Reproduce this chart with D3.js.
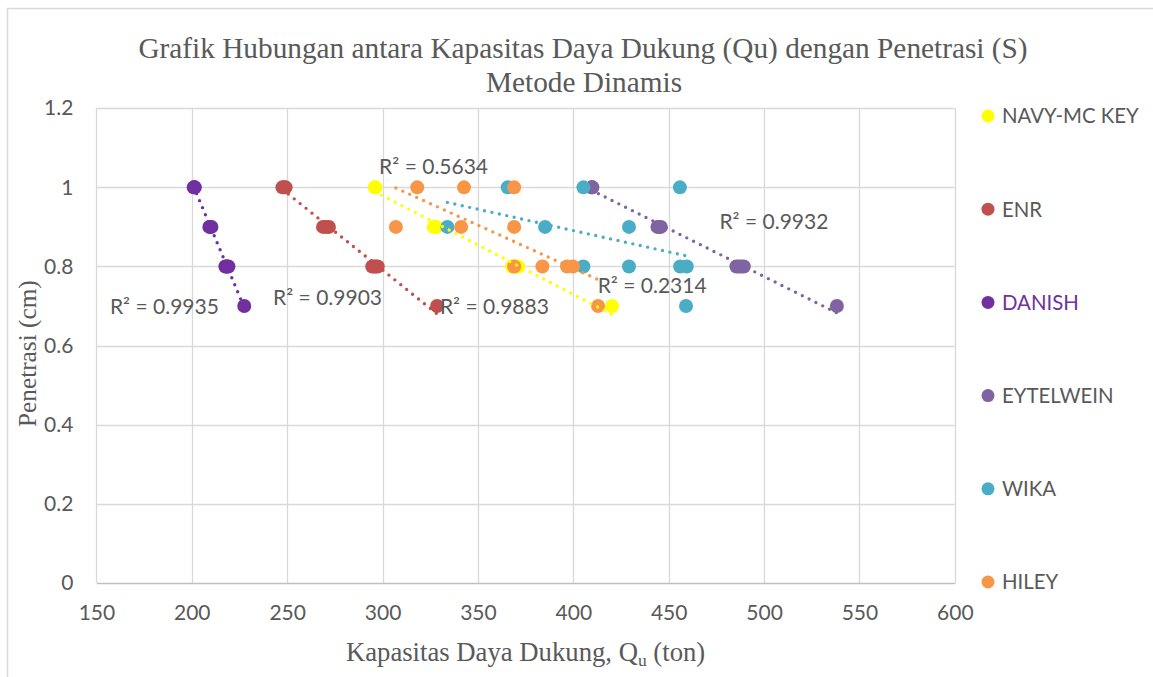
<!DOCTYPE html>
<html>
<head>
<meta charset="utf-8">
<script src="https://cdn.jsdelivr.net/npm/d3@7"></script>
<style>
  html, body { margin: 0; padding: 0; background: #ffffff; }
  svg { display: block; }
</style>
</head>
<body>
<svg id="chart" width="1153" height="677"></svg>
<script>
// ---------------- DATA ----------------
const seriesNames = ["NAVY-MC KEY", "ENR", "DANISH", "EYTELWEIN", "WIKA", "HILEY"];
const penetration = [1, 1, 1, 0.9, 0.9, 0.9, 0.8, 0.8, 0.8, 0.8, 0.7];
const navyQu      = [296.0, 296.1, 296.2, 326.8, 327.5, 328.2, 367.9, 368.9, 370.0, 371.1, 420.3];
const enrQu       = [247.5, 248.3, 249.2, 268.8, 270.4, 271.9, 294.6, 295.6, 296.6, 297.5, 328.6];
const danishQu    = [201.0, 201.3, 201.6, 209.2, 209.7, 210.3, 217.6, 218.1, 218.6, 219.2, 227.5];
const eytelweinQu = [409.6, 409.8, 410.0, 444.1, 445.0, 445.9, 485.5, 486.8, 488.1, 489.4, 538.2];
const wikaQu      = [365.6, 405.3, 455.9, 334.0, 385.2, 429.2, 405.3, 429.2, 456.0, 459.5, 459.1];
const hileyQu     = [318.2, 342.7, 369.0, 307.0, 341.2, 369.0, 369.0, 383.8, 396.7, 399.8, 413.0];
const r2Labels    = ["R² = 0.9883", "R² = 0.9903", "R² = 0.9935", "R² = 0.9932", "R² = 0.2314", "R² = 0.5634"];
const xTickValues = [150, 200, 250, 300, 350, 400, 450, 500, 550, 600];
const yTickValues = [0, 0.2, 0.4, 0.6, 0.8, 1, 1.2];

// ---------------- STYLE / LAYOUT ----------------
const colors = ["#FFFF00", "#C0504D", "#7030A0", "#8064A2", "#4BACC6", "#F79646"];
// label anchor positions (data units) for the R² annotations
const r2Anchor = [[330.1, 0.698], [242.6, 0.7225], [157.1, 0.698], [476.6, 0.913], [412.8, 0.753], [298.2, 1.052]];
const sansFont = "Lato, 'Open Sans', sans-serif";
const serifFont = "'Liberation Serif', 'Times New Roman', serif";
const textGray = "#595959";

const svg = d3.select("#chart");
svg.append("rect").attr("x", 7.5).attr("y", 8.5).attr("width", 1160).attr("height", 700)
  .attr("fill", "#fff").attr("stroke", "#D9D9D9").attr("stroke-width", 1.5);

const plot = { left: 96.4, right: 954.8, top: 108.2, bottom: 583.0 };
const x = d3.scaleLinear().domain([150, 600]).range([plot.left, plot.right]);
const y = d3.scaleLinear().domain([0, 1.2]).range([plot.bottom, plot.top]);

// gridlines
const grid = svg.append("g");
grid.selectAll("line.v").data(xTickValues).join("line")
  .attr("x1", d => Math.round(x(d)) + 0.5).attr("x2", d => Math.round(x(d)) + 0.5)
  .attr("y1", plot.top).attr("y2", plot.bottom)
  .attr("stroke", "#D9D9D9").attr("stroke-width", 1.3);
grid.selectAll("line.h").data(yTickValues.filter(d => d > 0)).join("line")
  .attr("x1", plot.left).attr("x2", plot.right)
  .attr("y1", d => Math.round(y(d)) + 0.5).attr("y2", d => Math.round(y(d)) + 0.5)
  .attr("stroke", "#D9D9D9").attr("stroke-width", 1.3);

// axes
const xAxis = d3.axisBottom(x).tickValues(xTickValues).tickSize(0).tickPadding(22).tickFormat(d3.format("d"));
const gx = svg.append("g").attr("transform", `translate(0,${plot.bottom})`).call(xAxis);
gx.select(".domain").attr("stroke", "#BFBFBF").attr("stroke-width", 1.5);
gx.selectAll("text").attr("font-family", sansFont).attr("font-size", 21).attr("fill", textGray);

const yAxis = d3.axisLeft(y).tickValues(yTickValues).tickSize(0).tickPadding(23)
  .tickFormat(d => d3.format("~g")(d));
const gy = svg.append("g").attr("transform", `translate(${plot.left},0)`).call(yAxis);
gy.select(".domain").remove();
gy.selectAll("text").attr("font-family", sansFont).attr("font-size", 21).attr("fill", textGray);

// series
const quSeries = [navyQu, enrQu, danishQu, eytelweinQu, wikaQu, hileyQu];
const series = seriesNames.map((name, i) => ({
  name, color: colors[i],
  points: quSeries[i].map((q, j) => ({ q, s: penetration[j] }))
}));

const markers = svg.append("g");
series.forEach(s => {
  markers.append("g").selectAll("circle").data(s.points).join("circle")
    .attr("cx", d => x(d.q)).attr("cy", d => y(d.s)).attr("r", 7)
    .attr("fill", s.color);
});

// linear trendlines (least squares), drawn over all markers
function linreg(pts) {
  const mx = d3.mean(pts, d => d.q), my = d3.mean(pts, d => d.s);
  let sxy = 0, sxx = 0;
  pts.forEach(d => { sxy += (d.q - mx) * (d.s - my); sxx += (d.q - mx) ** 2; });
  const b = sxy / sxx, a = my - b * mx;
  return q => a + b * q;
}
const trends = svg.append("g");
series.forEach(s => {
  const f = linreg(s.points);
  const [q0, q1] = d3.extent(s.points, d => d.q);
  trends.append("line")
    .attr("x1", x(q0)).attr("y1", y(f(q0)))
    .attr("x2", x(q1)).attr("y2", y(f(q1)))
    .attr("stroke", s.color).attr("stroke-width", 3.4)
    .attr("stroke-linecap", "round").attr("stroke-dasharray", "0 7.6");
});

// R² labels
svg.append("g").selectAll("text").data(r2Labels).join("text")
  .attr("x", (d, i) => x(r2Anchor[i][0])).attr("y", (d, i) => y(r2Anchor[i][1]))
  .attr("dy", "0.36em")
  .attr("font-family", sansFont).attr("font-size", 21).attr("fill", textGray)
  .text(d => d);

// title
const title = svg.append("text").attr("text-anchor", "middle")
  .attr("font-family", serifFont).attr("font-size", 29.3).attr("fill", textGray);
title.append("tspan").attr("x", 583).attr("y", 58).text("Grafik Hubungan antara Kapasitas Daya Dukung (Qu) dengan Penetrasi (S)");
title.append("tspan").attr("x", 584).attr("y", 92).text("Metode Dinamis");

// axis titles
const xt = svg.append("text").attr("text-anchor", "middle")
  .attr("x", (plot.left + plot.right) / 2).attr("y", 661)
  .attr("font-family", serifFont).attr("font-size", 26.7).attr("fill", textGray);
xt.append("tspan").text("Kapasitas Daya Dukung, Q");
xt.append("tspan").attr("font-size", 17.5).attr("dy", 5).text("u");
xt.append("tspan").attr("dy", -5).text(" (ton)");

svg.append("text").attr("text-anchor", "middle")
  .attr("transform", `translate(36,${(plot.top + plot.bottom) / 2 + 8}) rotate(-90)`)
  .attr("font-family", serifFont).attr("font-size", 25.3).attr("fill", textGray)
  .text("Penetrasi (cm)");

// legend
const legendY = d3.scalePoint().domain(seriesNames).range([116, 582]);
const legend = svg.append("g");
series.forEach(s => {
  const g = legend.append("g").attr("transform", `translate(0,${legendY(s.name)})`);
  g.append("circle").attr("cx", 988).attr("cy", 0).attr("r", 6.5).attr("fill", s.color);
  g.append("text").attr("x", 1002).attr("y", 0).attr("dy", "0.36em")
    .attr("font-family", sansFont).attr("font-size", 20.4)
    .attr("fill", s.name === "DANISH" ? "#7030A0" : textGray)
    .text(s.name);
});
</script>
</body>
</html>
